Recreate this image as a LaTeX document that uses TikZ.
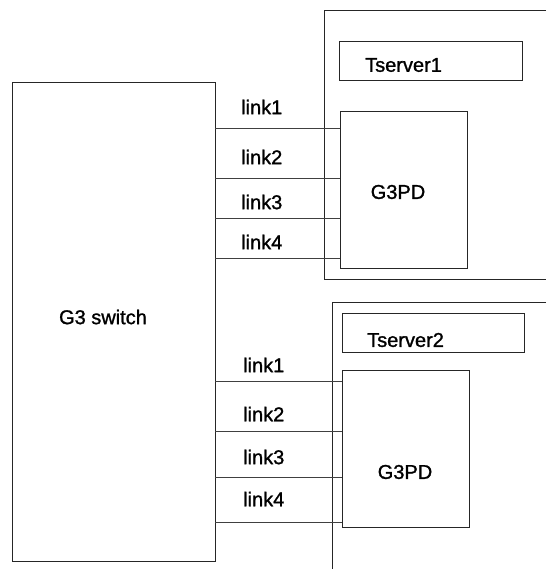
\documentclass[tikz,border=0pt]{standalone}
\usepackage{fontspec}
\setmainfont{Liberation Sans}[FakeBold=1.2]
\begin{document}
\begin{tikzpicture}[x=1pt,y=-1pt,
  box/.style={draw=black!85,line width=0.9pt,inner sep=0pt,outer sep=0pt},
  wire/.style={draw=black!75,line width=0.9pt},
  lbl/.style={inner sep=0pt,font=\fontsize{20}{22}\selectfont},
  linklbl/.style={lbl,anchor=west}]
\useasboundingbox (0,0) rectangle (546,569);

% switch
\node[box,minimum width=203pt,minimum height=479pt] (switch) at (113.5,321.5) {};
\node[lbl] (swlabel) at (103,317) {G3 switch};

% first server
\draw[wire,draw=black!85] (546,10) -- (324,10) coordinate (s1top) -- (324,279) -- (546,279);
\node[box,minimum width=183pt,minimum height=39pt] (ts1) at (430.5,60.5) {};
\node[lbl,anchor=west] (ts1label) at (365,65) {Tserver1};
\node[box,minimum width=127pt,minimum height=157pt] (pd1) at (403.5,189.5) {};
\node[lbl] (pd1label) at (398,192) {G3PD};

% second server
\draw[wire,draw=black!85] (546,302) -- (332,302) coordinate (s2top) -- (332,569);
\node[box,minimum width=182pt,minimum height=39pt] (ts2) at (433,332.5) {};
\node[lbl,anchor=west] (ts2label) at (367,340) {Tserver2};
\node[box,minimum width=127pt,minimum height=157pt] (pd2) at (405.5,448.5) {};
\node[lbl] (pd2label) at (405,472) {G3PD};

% links to first server
\foreach \yy/\ly/\n in {128/107/1,178/157/2,218/202/3,258/242/4}{
  \draw[wire] (switch.east |- 0,\yy) -- (pd1.west |- 0,\yy);
  \node[linklbl] (la\n) at (241,\ly) {link\n};
}
% links to second server
\foreach \yy/\ly/\n in {381/365/1,431/414/2,477/457/3,522/499/4}{
  \draw[wire] (switch.east |- 0,\yy) -- (pd2.west |- 0,\yy);
  \node[linklbl] (lb\n) at (243,\ly) {link\n};
}
\end{tikzpicture}
\end{document}
